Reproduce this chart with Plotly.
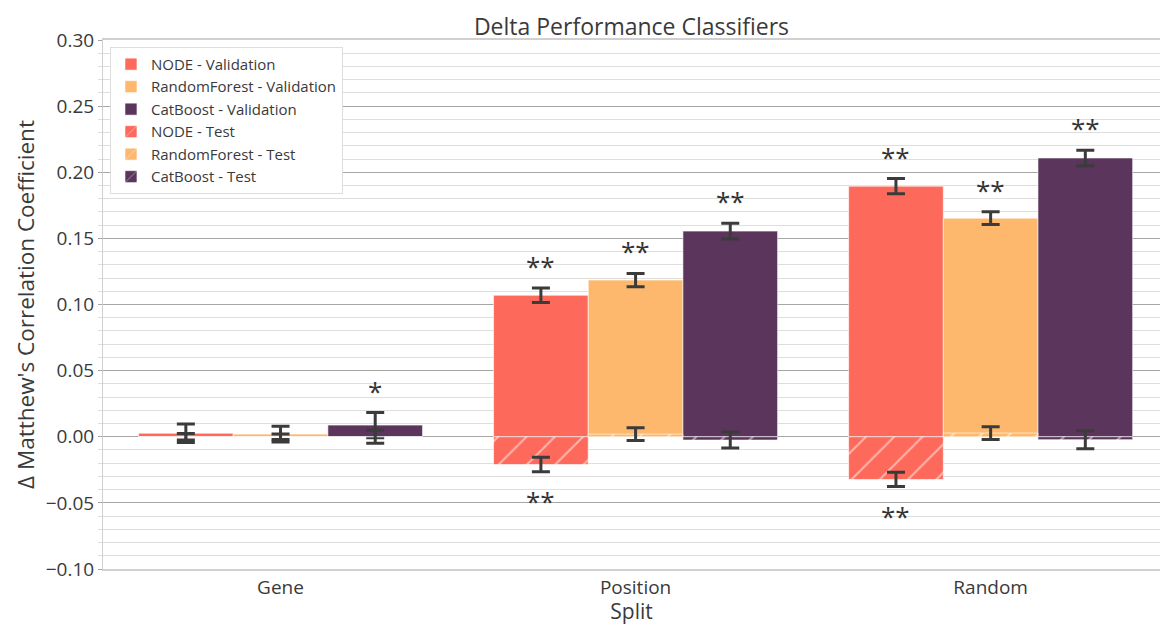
import plotly.graph_objects as go

# Splits on the x axis
splits = ["Gene", "Position", "Random"]
models = ["NODE", "RandomForest", "CatBoost"]
colors = {"NODE": "#FD6A5B", "RandomForest": "#FDB86E", "CatBoost": "#5B355C"}

# Delta MCC per model (mean over runs) and half-width of the error bar
val_node = [0.0027, 0.107, 0.1895]
val_node_err = [0.007, 0.0055, 0.0057]
val_rf = [0.002, 0.1185, 0.1653]
val_rf_err = [0.006, 0.005, 0.0048]
val_cat = [0.0088, 0.1555, 0.2108]
val_cat_err = [0.0095, 0.006, 0.0058]

test_node = [0.0, -0.021, -0.0323]
test_node_err = [0.0025, 0.0055, 0.0054]
test_rf = [0.0, 0.002, 0.0028]
test_rf_err = [0.002, 0.0048, 0.0048]
test_cat = [0.0, -0.0025, -0.0022]
test_cat_err = [0.005, 0.006, 0.0068]

# Significance markers (empty = not significant)
val_node_sig = ["", "**", "**"]
val_rf_sig = ["", "**", "**"]
val_cat_sig = ["*", "**", "**"]
test_node_sig = ["", "**", "**"]
test_rf_sig = ["", "", ""]
test_cat_sig = ["", "", ""]

val = {"NODE": (val_node, val_node_err, val_node_sig),
       "RandomForest": (val_rf, val_rf_err, val_rf_sig),
       "CatBoost": (val_cat, val_cat_err, val_cat_sig)}
test = {"NODE": (test_node, test_node_err, test_node_sig),
        "RandomForest": (test_rf, test_rf_err, test_rf_sig),
        "CatBoost": (test_cat, test_cat_err, test_cat_sig)}

FONT = "Open Sans"
TXT = "#3a3a3a"
ERR = dict(type="data", color="#3b3b3b", thickness=3, width=9)

fig = go.Figure()

for m in models:
    y, e, _ = val[m]
    fig.add_trace(go.Bar(
        x=splits, y=y, name=f"{m} - Validation", offsetgroup=m,
        marker=dict(color=colors[m], line=dict(color="white", width=0.6)),
        error_y=dict(array=e, **ERR),
    ))

for m in models:
    y, e, _ = test[m]
    fig.add_trace(go.Bar(
        x=splits, y=y, name=f"{m} - Test", offsetgroup=m,
        marker=dict(color=colors[m], line=dict(color="white", width=0.6),
                    pattern=dict(shape="/", fgcolor="white", bgcolor=colors[m],
                                 size=20, solidity=0.1)),
        error_y=dict(array=e, **ERR),
    ))

# Star annotations above validation / below test error bars
annotations = []
for mi, m in enumerate(models):
    off = (mi - 1) * 0.8 / 3
    y, e, s = val[m]
    for i, txt in enumerate(s):
        if txt:
            annotations.append(dict(x=i + off, y=y[i] + e[i], xref="x", yref="y",
                                    text=txt, showarrow=False, yanchor="bottom",
                                    yshift=2, font=dict(size=26, color="#333", family=FONT)))
    y, e, s = test[m]
    for i, txt in enumerate(s):
        if txt:
            annotations.append(dict(x=i + off, y=y[i] - e[i], xref="x", yref="y",
                                    text=txt, showarrow=False, yanchor="top",
                                    yshift=-9, font=dict(size=26, color="#333", family=FONT)))

fig.update_layout(
    width=1160, height=625,
    margin=dict(l=103, r=0, t=40, b=56),
    paper_bgcolor="white", plot_bgcolor="white",
    barmode="group", bargap=0.2, bargroupgap=0,
    font=dict(family=FONT, color=TXT),
    title=dict(text="Delta Performance Classifiers", x=0.5, xref="paper",
               xanchor="center", y=1, yref="paper", yanchor="bottom", pad=dict(b=5),
               font=dict(size=23, color=TXT, family=FONT)),
    legend=dict(x=0.0066, y=0.987, xanchor="left", yanchor="top",
                bgcolor="white", bordercolor="#dddddd", borderwidth=1,
                font=dict(size=15, color=TXT, family=FONT),
                tracegroupgap=0),
    annotations=annotations,
)

fig.update_xaxes(
    range=[-0.5, 2.477], showgrid=False, showline=True, linecolor="#d0d0d0",
    linewidth=2, mirror=True, ticks="",
    tickfont=dict(size=19, color=TXT),
    title=dict(text="Split", font=dict(size=21, color=TXT), standoff=4),
)

fig.update_yaxes(
    range=[-0.1, 0.3], tick0=0, dtick=0.05, tickformat=".2f",
    showgrid=True, gridcolor="#a6a6a6", gridwidth=1,
    zeroline=True, zerolinecolor="#a6a6a6", zerolinewidth=1,
    showline=True, linecolor="#d0d0d0", linewidth=1, mirror=True,
    ticks="outside", ticklen=4, tickcolor="#a6a6a6",
    minor=dict(dtick=0.01, showgrid=True, gridcolor="#dedede", gridwidth=1,
               ticks="outside", ticklen=4, tickcolor="#dedede"),
    tickfont=dict(size=19, color=TXT),
    title=dict(text="Δ Matthew's Correlation Coefficient",
               font=dict(size=22.5, color=TXT), standoff=4),
)

fig.write_html("out.html")
